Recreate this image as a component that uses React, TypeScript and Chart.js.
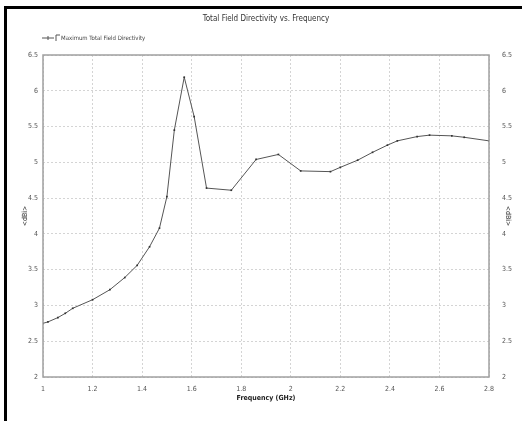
import React, { useEffect, useRef } from "react";
import { Chart, registerables } from "chart.js";

Chart.register(...registerables);

const frequencyGHz = [
  1.0, 1.02, 1.06, 1.09, 1.12, 1.2, 1.27, 1.33, 1.38, 1.43, 1.47, 1.5, 1.53,
  1.57, 1.61, 1.66, 1.76, 1.86, 1.95, 2.04, 2.16, 2.2, 2.27, 2.33, 2.39, 2.43,
  2.51, 2.56, 2.65, 2.7, 2.8,
];
const directivityDbi = [
  2.75, 2.77, 2.83, 2.89, 2.96, 3.08, 3.22, 3.39, 3.56, 3.82, 4.08, 4.52, 5.45,
  6.19, 5.64, 4.64, 4.61, 5.04, 5.11, 4.88, 4.87, 4.93, 5.03, 5.14, 5.24, 5.3,
  5.36, 5.38, 5.37, 5.35, 5.3,
];
const xTickValues = [1, 1.2, 1.4, 1.6, 1.8, 2, 2.2, 2.4, 2.6, 2.8];
const yTickValues = [2, 2.5, 3, 3.5, 4, 4.5, 5, 5.5, 6, 6.5];

const chartTitle = "Total Field Directivity vs. Frequency";
const seriesLabel = "Maximum Total Field Directivity";
const xAxisTitle = "Frequency (GHz)";
const yAxisTitle = "<dBi>";

const FONT = '"Liberation Sans Narrow", "DejaVu Sans Condensed", "Arial Narrow", sans-serif';

const framePlugin = {
  id: "frameText",
  afterDraw(chart: any) {
    const ctx = chart.ctx;
    const ca = chart.chartArea;
    ctx.save();
    ctx.strokeStyle = "#a0a0a0";
    ctx.lineWidth = 1.5;
    ctx.strokeRect(ca.left, ca.top, ca.right - ca.left, ca.bottom - ca.top);
    ctx.fillStyle = "#333";
    ctx.font = `8px ${FONT}`;
    ctx.textAlign = "center";
    ctx.textBaseline = "middle";
    ctx.fillText(chartTitle, 266, 19);
    const ly = 38;
    ctx.strokeStyle = "#555";
    ctx.lineWidth = 1;
    ctx.beginPath();
    ctx.moveTo(42, ly);
    ctx.lineTo(54, ly);
    ctx.moveTo(48, ly - 2);
    ctx.lineTo(48, ly + 2);
    ctx.stroke();
    ctx.beginPath();
    ctx.moveTo(56, ly + 3);
    ctx.lineTo(56, ly - 3);
    ctx.lineTo(60, ly - 3);
    ctx.stroke();
    ctx.fillStyle = "#444";
    ctx.font = `6px ${FONT}`;
    ctx.textAlign = "left";
    ctx.fillText(chart.data.datasets[0].label, 61, ly);
    ctx.restore();
  },
};

export default function App() {
  const canvasRef = useRef<HTMLCanvasElement | null>(null);

  useEffect(() => {
    if (!canvasRef.current) return;
    const points = frequencyGHz.map((f, i) => ({ x: f, y: directivityDbi[i] }));
    const tickFont = { family: FONT, size: 7 };
    const titleFont = { family: FONT, size: 7 };
    const grid = {
      color: "#d4d4d4",
      lineWidth: 1,
      drawTicks: false,
    };
    const chart = new Chart(canvasRef.current, {
      type: "line",
      data: {
        datasets: [
          {
            label: seriesLabel,
            data: points,
            borderColor: "#555",
            borderWidth: 1,
            pointRadius: 1.2,
            pointStyle: "rect",
            pointBackgroundColor: "#333",
            pointBorderColor: "#333",
            pointBorderWidth: 0,
            tension: 0,
            fill: false,
          },
        ],
      },
      options: {
        animation: false,
        responsive: false,
        events: [],
        layout: { padding: { top: 55, left: 0, right: 0, bottom: 0 } },
        plugins: {
          legend: { display: false },
          title: { display: false },
          tooltip: { enabled: false },
        },
        scales: {
          x: {
            type: "linear",
            min: 1,
            max: 2.8,
            afterBuildTicks: (s: any) => {
              s.ticks = xTickValues.map((v) => ({ value: v }));
            },
            afterFit: (s: any) => {
              s.height = 44;
            },
            ticks: {
              font: tickFont,
              color: "#555",
              padding: 8,
              maxRotation: 0,
              autoSkip: false,
              callback: (v: any) => String(v),
            },
            grid: grid,
            border: { display: false, dash: [2, 2] },
            title: {
              display: true,
              text: xAxisTitle,
              font: { ...titleFont, weight: "bold" },
              color: "#222",
              padding: { top: 0, bottom: 19 },
            },
          },
          y: {
            type: "linear",
            position: "left",
            min: 2,
            max: 6.5,
            afterBuildTicks: (s: any) => {
              s.ticks = yTickValues.map((v) => ({ value: v }));
            },
            afterFit: (s: any) => {
              s.width = 43;
            },
            ticks: {
              font: tickFont,
              color: "#555",
              padding: 5,
              autoSkip: false,
              callback: (v: any) => String(v),
            },
            grid: grid,
            border: { display: false, dash: [2, 2] },
            title: {
              display: true,
              text: yAxisTitle,
              font: titleFont,
              color: "#333",
              padding: { top: 21, bottom: 0 },
            },
          },
          y2: {
            type: "linear",
            position: "right",
            min: 2,
            max: 6.5,
            afterBuildTicks: (s: any) => {
              s.ticks = yTickValues.map((v) => ({ value: v }));
            },
            afterFit: (s: any) => {
              s.width = 33;
            },
            ticks: {
              font: tickFont,
              color: "#555",
              padding: 5,
              autoSkip: false,
              callback: (v: any) => String(v),
            },
            grid: { display: false },
            border: { display: false },
            title: {
              display: true,
              text: yAxisTitle,
              font: titleFont,
              color: "#333",
              padding: { top: 10, bottom: 0 },
            },
          },
        },
      },
      plugins: [framePlugin],
    } as any);
    return () => chart.destroy();
  }, []);

  return (
    <div
      style={{
        position: "fixed",
        left: 0,
        top: 0,
        width: 522,
        height: 421,
        background: "#fff",
        overflow: "hidden",
      }}
    >
      <canvas
        ref={canvasRef}
        width={522}
        height={421}
        style={{ position: "absolute", left: 0, top: 0, width: 522, height: 421 }}
      />
      <div
        style={{
          position: "absolute",
          left: 4,
          top: 6,
          width: 600,
          height: 600,
          borderLeft: "3px solid #000",
          borderTop: "3px solid #000",
          pointerEvents: "none",
        }}
      />
    </div>
  );
}
